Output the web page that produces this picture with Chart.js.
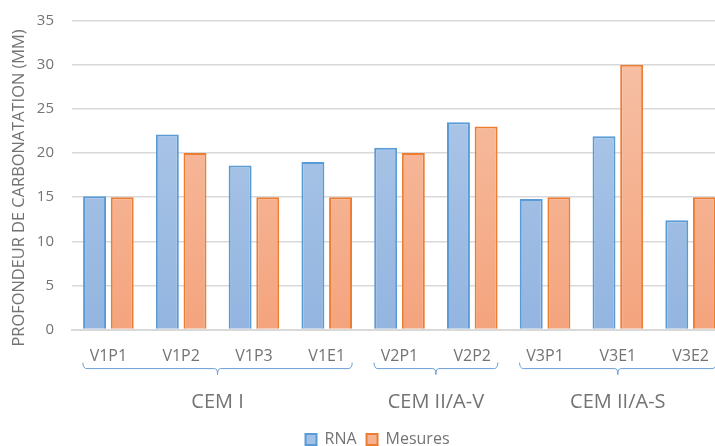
<!DOCTYPE html>
<html>
<head>
<meta charset="utf-8">
<script src="https://cdn.jsdelivr.net/npm/chart.js@4"></script>
<style>
  html, body { margin: 0; padding: 0; overflow: hidden; background: #fff; }
  #wrap { width: 752px; height: 446px; }
</style>
</head>
<body>
<div id="wrap"><canvas id="barChart" width="752" height="446"></canvas></div>
<script>
var labels = ['V1P1', 'V1P2', 'V1P3', 'V1E1', 'V2P1', 'V2P2', 'V3P1', 'V3E1', 'V3E2'];
var rna = [15.1, 22.1, 18.6, 19.0, 20.6, 23.5, 14.8, 21.9, 12.4];
var mesures = [15, 20, 15, 15, 20, 23, 15, 30, 15];
var groupNames = ['CEM I', 'CEM II/A-V', 'CEM II/A-S'];
var groupFirst = [0, 4, 6];
var groupLast = [3, 5, 8];

var textColor = '#737373';
var font = "'Open Sans', 'Liberation Sans', sans-serif";

function gradient(ctx, top, bottom) {
  var chart = ctx.chart;
  var area = chart.chartArea;
  if (!area) return bottom;
  var g = chart.ctx.createLinearGradient(0, area.top, 0, area.bottom);
  g.addColorStop(0, top);
  g.addColorStop(1, bottom);
  return g;
}

// accolades + noms de groupes sous l'axe x
var groupBrackets = {
  id: 'groupBrackets',
  afterDraw: function(chart) {
    var ctx = chart.ctx;
    var x = chart.scales.x;
    var half = (x.getPixelForTick(1) - x.getPixelForTick(0)) * 0.35;
    var yLine = chart.chartArea.bottom + 39;
    ctx.save();
    ctx.strokeStyle = '#6a9fd8';
    ctx.lineWidth = 1;
    for (var i = 0; i < groupNames.length; i++) {
      var x0 = x.getPixelForTick(groupFirst[i]) - half;
      var x1 = x.getPixelForTick(groupLast[i]) + half;
      var xm = (x0 + x1) / 2;
      ctx.beginPath();
      ctx.moveTo(x0, yLine - 6);
      ctx.quadraticCurveTo(x0, yLine, x0 + 4, yLine);
      ctx.lineTo(xm - 3, yLine);
      ctx.quadraticCurveTo(xm, yLine, xm, yLine + 6);
      ctx.quadraticCurveTo(xm, yLine, xm + 3, yLine);
      ctx.lineTo(x1 - 4, yLine);
      ctx.quadraticCurveTo(x1, yLine, x1, yLine - 6);
      ctx.stroke();
      ctx.fillStyle = textColor;
      ctx.font = '20px ' + font;
      ctx.textAlign = 'center';
      ctx.textBaseline = 'middle';
      ctx.fillText(groupNames[i], xm, yLine + 34);
    }
    ctx.restore();
  }
};

function printChart() {
  var ctx = document.getElementById('barChart');
  var myChart = new Chart(ctx, {
    type: 'bar',
    data: {
      labels: labels,
      datasets: [{
        label: 'RNA',
        data: rna,
        backgroundColor: function(c) { return gradient(c, '#b3cbea', '#93b5e0'); },
        borderColor: '#5b9bd5',
        borderWidth: 2
      }, {
        label: 'Mesures',
        data: mesures,
        backgroundColor: function(c) { return gradient(c, '#f7c3aa', '#f4a47d'); },
        borderColor: '#ed7d31',
        borderWidth: 2
      }]
    },
    options: {
      responsive: false,
      animation: false,
      categoryPercentage: 0.76,
      barPercentage: 0.83,
      layout: { padding: { top: 20.7, right: 25, left: 28, bottom: -11.6 } },
      plugins: {
        tooltip: { enabled: false },
        legend: {
          position: 'bottom',
          labels: {
            color: textColor,
            font: { family: font, size: 16 },
            boxWidth: 11,
            boxHeight: 11,
            padding: 10,
            generateLabels: function(chart) {
              return chart.data.datasets.map(function(ds, i) {
                return {
                  text: ds.label,
                  fillStyle: i === 0 ? '#a3c1e6' : '#f5b293',
                  strokeStyle: ds.borderColor,
                  lineWidth: 2,
                  fontColor: textColor,
                  datasetIndex: i
                };
              });
            }
          }
        }
      },
      scales: {
        x: {
          grid: { display: false },
          border: { color: '#d9d9d9', width: 2 },
          ticks: { color: textColor, font: { family: font, size: 16 }, padding: 9 },
          afterFit: function(scale) {
            scale.height = 92;
            scale.paddingLeft = 0;
            scale.paddingRight = 0;
          }
        },
        y: {
          min: 0,
          max: 35,
          ticks: { stepSize: 5, color: textColor, font: { family: font, size: 15 }, padding: 18 },
          grid: { color: '#d9d9d9', lineWidth: 1.5, drawTicks: false },
          border: { display: false },
          title: {
            display: true,
            text: 'PROFONDEUR DE CARBONATATION (MM)      ',
            color: textColor,
            font: { family: font, size: 16.4 },
            padding: { top: -18.8, bottom: 0 }
          },
          afterFit: function(scale) {
            scale.width = 44;
            scale.paddingTop = 0;
            scale.paddingBottom = 0;
          }
        }
      }
    },
    plugins: [groupBrackets]
  });
}

printChart();
</script>
</body>
</html>
